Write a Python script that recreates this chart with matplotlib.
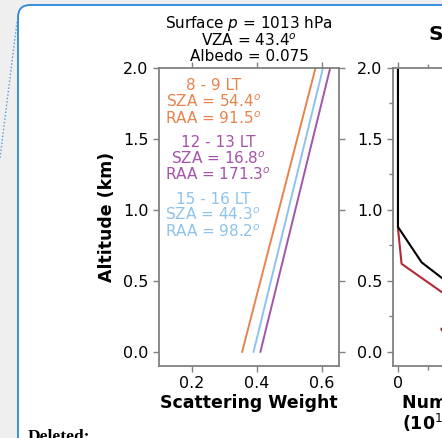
import matplotlib
matplotlib.use("Agg")
import matplotlib.pyplot as plt
from matplotlib.patches import FancyBboxPatch
from matplotlib.lines import Line2D
from matplotlib.ticker import MultipleLocator

# ---- data ----
altitude = [0.0, 2.0]
sw_8_9 = [0.355, 0.580]
sw_12_13 = [0.411, 0.625]
sw_15_16 = [0.390, 0.603]
series_labels = ["8 - 9 LT\nSZA = 54.4$^o$\nRAA = 91.5$^o$",
                 "12 - 13 LT\nSZA = 16.8$^o$\nRAA = 171.3$^o$",
                 "15 - 16 LT\nSZA = 44.3$^o$\nRAA = 98.2$^o$"]
colors = ["#E8834E", "#A453A8", "#8EC3EC"]
title_text = "Surface $p$ = 1013 hPa\nVZA = 43.4$^o$\nAlbedo = 0.075"

num_alt_black = [2.0, 0.88, 0.63, 0.52, 0.40, 0.20]
num_x_black = [0.0, 0.0, 0.395, 0.733, 1.3, 1.8]
num_alt_red = [2.0, 0.87, 0.62, 0.42, 0.30, 0.16, 0.0]
num_x_red = [0.0, 0.0, 0.06, 0.733, 1.2, 0.72, 1.0]

W, H = 442, 438
fig = plt.figure(figsize=(W / 100, H / 100), dpi=100)
fig.patch.set_facecolor("#efefef")

def px(x, y):
    return x / W, 1 - y / H

# document comment frame
box = FancyBboxPatch(px(18, 470), (W + 40) / W, 465 / H,
                     boxstyle="round,pad=0,rounding_size=0.028",
                     transform=fig.transFigure, facecolor="white",
                     edgecolor="#2A86DE", linewidth=1.3, zorder=-10)
fig.patches.append(box)
x0, y0 = px(17, 22)
x1, y1 = px(0, 158)
fig.lines.append(Line2D([x0, x1], [y0, y1], transform=fig.transFigure,
                        color="#4A9BE6", linestyle=(0, (1, 1.5)), linewidth=1,
                        zorder=-5))
fig.text(28 / W, 1 - 429 / H, "Deleted:", family="Liberation Serif",
         fontweight="bold", fontsize=12.5, va="top", ha="left")

spine_col = "#808080"
ax_h = (366 - 68) / H
ax_w = (339 - 159) / W
ax1 = fig.add_axes([159 / W, 1 - 366 / H, ax_w, ax_h])
ax2 = fig.add_axes([393 / W, 1 - 366 / H, ax_w, ax_h])

for ax in (ax1, ax2):
    ax.set_facecolor("white")
    for s in ax.spines.values():
        s.set_color(spine_col)
        s.set_linewidth(1.3)
    ax.tick_params(which="both", direction="out", color=spine_col,
                   top=True, right=True, labelsize=11.5, width=1)
    ax.tick_params(which="major", length=4)
    ax.tick_params(which="minor", length=3)
    ax.set_ylim(-0.1, 2.0)
    ax.yaxis.set_major_locator(MultipleLocator(0.5))
    ax.yaxis.set_major_formatter(matplotlib.ticker.FormatStrFormatter("%.1f"))

# left panel
ax1.plot(sw_8_9, altitude, color=colors[0], lw=1.4)
ax1.plot(sw_15_16, altitude, color=colors[2], lw=1.4)
ax1.plot(sw_12_13, altitude, color=colors[1], lw=1.4)
ax1.set_xlim(0.1, 0.652)
ax1.set_xticks([0.2, 0.4, 0.6])
ax1.set_xlabel("Scattering Weight", fontsize=12.5, fontweight="bold", labelpad=2)
ax1.set_ylabel("Altitude (km)", fontsize=12.5, fontweight="bold", labelpad=5)
ax1.set_title(title_text, fontsize=11, pad=5, linespacing=0.98)
ys = [0.965, 0.775, 0.585]
for lab, c, yy in zip(series_labels, colors, ys):
    ax1.text(0.035, yy, lab, transform=ax1.transAxes, color=c, fontsize=11,
             ha="left", va="top", multialignment="center", linespacing=1.0)

# right panel (partially visible)
ax2.plot(num_x_red, num_alt_red, color="#B5283A", lw=1.5)
ax2.plot(num_x_black, num_alt_black, color="black", lw=1.5)
ax2.set_xlim(-0.083, 2.917)
ax2.xaxis.set_major_locator(MultipleLocator(1))
ax2.xaxis.set_minor_locator(MultipleLocator(0.5))
ax2.yaxis.set_minor_locator(MultipleLocator(0.25))
ax2.set_xlabel("Number Density\n(10$^{16}$ molec cm$^{-3}$)", fontsize=12.5,
               fontweight="bold", labelpad=2, ha="left", x=0.05,
               multialignment="left", linespacing=1.0)
ax2.set_title("SZA", fontsize=14.5, fontweight="bold", loc="left", x=0.2, pad=20)

fig.savefig("out.png", dpi=100, facecolor=fig.get_facecolor())
